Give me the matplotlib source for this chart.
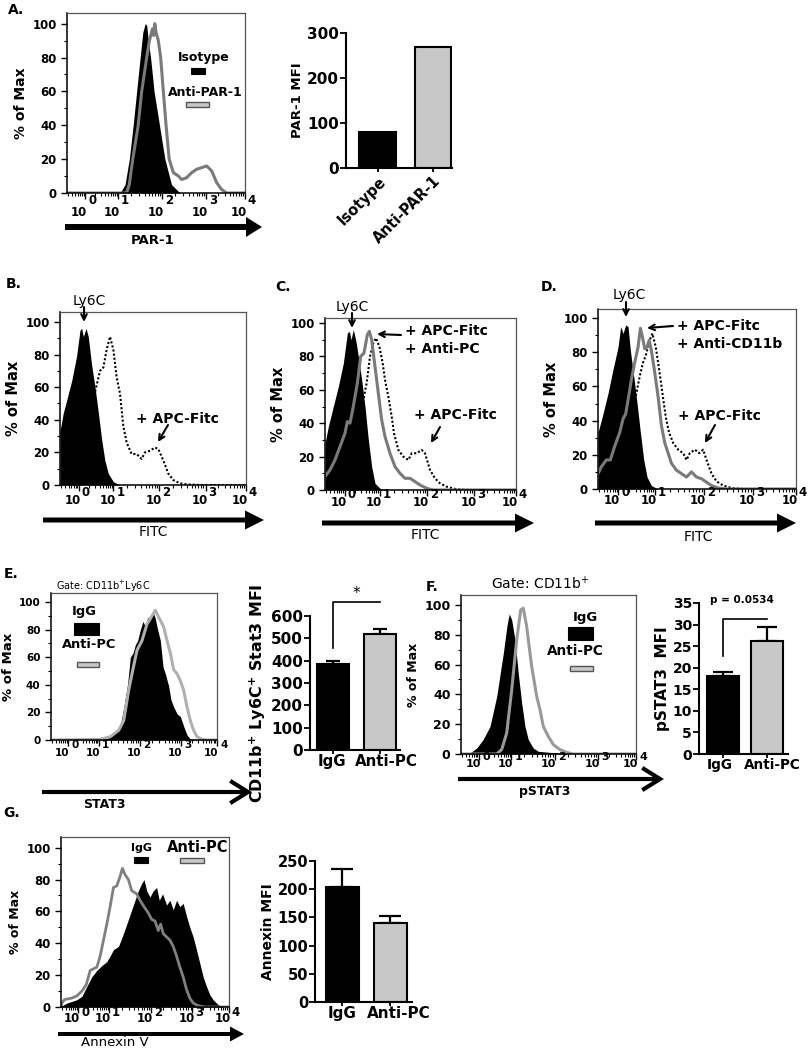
import numpy as np
import matplotlib
matplotlib.use('Agg')
import matplotlib.pyplot as plt
from matplotlib.patches import FancyArrow, Rectangle
from matplotlib import transforms
from matplotlib.ticker import FixedLocator, MultipleLocator

plt.rcParams['font.family'] = ['DejaVu Sans']
plt.rcParams['mathtext.fontset'] = 'dejavusans'

W, H = 809, 1050
fig = plt.figure(figsize=(W / 100, H / 100), dpi=100)

# ------------------------------------------------------------------ data
DECADE_LABELS = ['0', '1', '2', '3', '4']

# Panel A histogram (x in decade display units, y = % of max)
A_iso_x = [-0.6, 0.77, 0.90, 1.01, 1.11, 1.20, 1.29, 1.36, 1.42, 1.46, 1.50, 1.56, 1.65, 1.79, 1.93, 2.10, 2.32, 4.0]
A_iso_y = [0, 0, 5, 20, 40, 60, 80, 95, 100, 99, 90, 80, 60, 40, 20, 5, 0, 0]
A_par_x = [-0.6, 0.94, 1.01, 1.10, 1.24, 1.33, 1.46, 1.53, 1.61, 1.64, 1.67, 1.70, 1.76, 1.82, 1.89, 1.96, 2.04,
           2.15, 2.28, 2.36, 2.49, 2.62, 2.75, 2.88, 3.01, 3.14, 3.27, 3.40, 3.53, 4.0]
A_par_y = [0, 0, 5, 20, 40, 60, 80, 90, 97, 93, 100, 95, 90, 80, 60, 40, 20, 12, 10, 8, 9, 12, 14, 15, 16, 13, 6, 2, 0, 0]

# Panel A bars
A_bar_cats = ['Isotype', 'Anti-PAR-1']
A_bar_vals = [80, 270]

# Panel B
B_ly6c_x = [-0.6, -0.52, -0.435, -0.31, -0.19, -0.105, -0.064, -0.023, 0.043, 0.10, 0.18, 0.266, 0.35, 0.43, 0.51,
            0.595, 0.72, 0.88, 4.0]
B_ly6c_y = [33, 44, 52, 64, 79, 95, 96, 91, 96, 91, 74, 60, 44, 28, 15, 7, 2, 0, 0]
B_apc_x = [0.18, 0.266, 0.389, 0.472, 0.554, 0.637, 0.719, 0.801, 0.884, 0.966, 1.049, 1.172, 1.296, 1.42, 1.502,
           1.626, 1.75, 1.832, 1.956, 2.079, 2.203, 2.368, 2.533, 2.862, 4.0]
B_apc_y = [50, 57, 70, 72, 83, 91, 83, 66, 56, 36, 26, 19, 19, 16, 20, 21, 23, 22, 15, 7, 3, 1, 0.4, 0, 0]

# Panel C
C_ly6c_x = [-0.6, -0.52, -0.4, -0.279, -0.158, -0.062, -0.014, 0.026, 0.082, 0.139, 0.203, 0.283, 0.363, 0.444,
            0.524, 0.604, 0.725, 0.845, 4.0]
C_ly6c_y = [28, 38, 50, 62, 76, 94, 95, 90, 96, 90, 80, 66, 50, 30, 14, 4, 1, 0, 0]
C_pc_x = [-0.6, -0.48, -0.359, -0.239, -0.118, -0.062, 0.002, 0.082, 0.179, 0.259, 0.339, 0.42, 0.468, 0.524, 0.604,
          0.684, 0.765, 0.845, 0.965, 1.086, 1.206, 1.327, 1.447, 1.568, 1.688, 1.849, 2.009, 4.0]
C_pc_y = [8, 12, 18, 26, 34, 41, 40, 50, 64, 80, 82, 93, 95, 90, 74, 58, 42, 32, 22, 14, 10, 7, 7, 5, 3, 1, 0, 0]
C_apc_x = [0.25, 0.323, 0.403, 0.484, 0.564, 0.628, 0.709, 0.789, 0.845, 0.925, 1.006, 1.062, 1.166, 1.287, 1.407,
           1.487, 1.608, 1.728, 1.808, 1.929, 2.049, 2.17, 2.33, 2.571, 2.892, 4.0]
C_apc_y = [48, 54, 64, 80, 88, 91, 86, 76, 66, 56, 44, 34, 24, 20, 18, 22, 22, 24, 22, 12, 7, 4, 2, 0.4, 0, 0]

# Panel D
D_ly6c_x = [-0.6, -0.484, -0.367, -0.251, -0.135, -0.073, -0.018, 0.044, 0.098, 0.152, 0.23, 0.308, 0.385, 0.463,
            0.54, 0.641, 0.796, 4.0]
D_ly6c_y = [33, 44, 56, 70, 83, 95, 91, 96, 95, 81, 66, 50, 33, 17, 7, 2, 0, 0]
D_cd_x = [-0.6, -0.522, -0.406, -0.313, -0.212, -0.096, -0.018, 0.044, 0.098, 0.176, 0.253, 0.331, 0.385, 0.432,
          0.486, 0.54, 0.587, 0.641, 0.719, 0.796, 0.874, 0.951, 1.029, 1.107, 1.223, 1.339, 1.456, 1.572, 1.688,
          1.805, 1.921, 2.037, 2.193, 2.386, 4.0]
D_cd_y = [9, 13, 17, 17, 25, 33, 41, 44, 52, 64, 74, 83, 94, 89, 82, 83, 87, 81, 68, 54, 37, 27, 21, 15, 11, 9, 7, 10,
          7, 6, 4, 2, 0.6, 0, 0]
D_apc_x = [0.2, 0.292, 0.37, 0.447, 0.509, 0.602, 0.664, 0.742, 0.82, 0.897, 0.975, 1.052, 1.145, 1.262, 1.378,
           1.456, 1.533, 1.65, 1.75, 1.844, 1.921, 2.037, 2.154, 2.309, 2.503, 2.774, 4.0]
D_apc_y = [45, 56, 66, 74, 78, 87, 91, 83, 70, 56, 42, 33, 27, 23, 21, 17, 21, 23, 21, 23, 17, 9, 4.5, 2, 0.6, 0, 0]

# Panel E
E_igg_x = [-0.6, 0.767, 1.044, 1.229, 1.34, 1.432, 1.525, 1.598, 1.672, 1.737, 1.802, 1.876, 1.949, 2.014, 2.079,
           2.153, 2.227, 2.291, 2.337, 2.43, 2.504, 2.568, 2.661, 2.725, 2.799, 2.892, 2.984, 3.076, 3.169, 3.261, 4.0]
E_igg_y = [0, 0.5, 2.4, 6, 13, 26, 41, 60, 63, 69, 72, 80, 86, 82, 89, 87, 93, 88, 82, 72, 53, 48, 39, 29, 24, 19, 17,
           10, 3.6, 0.7, 0]
E_pc_x = [-0.6, 0.767, 1.044, 1.275, 1.414, 1.552, 1.645, 1.783, 1.922, 2.06, 2.199, 2.291, 2.384, 2.522, 2.614,
          2.707, 2.799, 2.892, 2.984, 3.076, 3.169, 3.261, 3.353, 3.446, 3.584, 3.723, 4.0]
E_pc_y = [0, 0.5, 2.4, 7, 14, 36, 48, 65, 72, 84, 90, 94, 89, 82, 72, 63, 51, 48, 43, 36, 24, 14, 7, 2.4, 0.5, 0, 0]
E_bar_cats = ['IgG', 'Anti-PC']
E_bar_vals = [385, 520]
E_bar_err = [12, 22]

# Panel F
F_igg_x = [-0.6, -0.363, -0.187, -0.022, 0.162, 0.338, 0.512, 0.617, 0.67, 0.733, 0.819, 0.906, 0.996, 1.082, 1.169,
           1.3, 1.432, 2.002, 2.344, 4.0]
F_igg_y = [0, 0.7, 4, 9.6, 18.5, 38.6, 67.6, 87.7, 94, 90, 76.6, 54, 34, 18.5, 9.6, 4, 1.8, 0.5, 0, 0]
F_pc_x = [-0.6, 0.338, 0.47, 0.601, 0.733, 0.864, 0.969, 1.038, 1.127, 1.258, 1.39, 1.477, 1.563, 1.695, 1.826, 2.002,
          2.178, 2.344, 4.0]
F_pc_y = [0, 0, 3, 14, 43, 76.6, 96.7, 97.8, 85.5, 58.7, 38.6, 29.7, 18.5, 11.8, 6.3, 2.9, 1.1, 0, 0]
F_bar_cats = ['IgG', 'Anti-PC']
F_bar_vals = [18.1, 26.2]
F_bar_err = [0.9, 3.2]

# Panel G
G_igg_x = [-0.6, -0.573, -0.436, -0.3, -0.164, -0.027, 0.109, 0.245, 0.382, 0.518, 0.655, 0.745, 0.836, 0.973, 1.109,
           1.2, 1.336, 1.427, 1.518, 1.609, 1.673, 1.745, 1.836, 1.927, 2.018, 2.091, 2.182, 2.291, 2.382, 2.473,
           2.564, 2.655, 2.745, 2.836, 2.927, 3.018, 3.109, 3.2, 3.291, 3.382, 3.473, 3.564, 3.7, 3.836, 4.0]
G_igg_y = [0, 0.8, 2.5, 3.5, 4.6, 6.7, 13, 19, 23, 26, 28.5, 32, 36, 38, 46, 52, 61, 67, 73, 77.5, 80, 73, 69, 73, 75,
           67, 71, 64, 67, 61, 67, 63, 65, 57, 50, 44, 36, 27.5, 19, 13, 7.7, 4.6, 1.5, 0, 0]
G_pc_x = [-0.6, -0.573, -0.509, -0.436, -0.3, -0.164, -0.027, 0.091, 0.2, 0.291, 0.382, 0.473, 0.564, 0.655, 0.745,
          0.836, 0.927, 1.018, 1.082, 1.155, 1.245, 1.336, 1.473, 1.564, 1.673, 1.791, 1.882, 1.973, 2.064, 2.127,
          2.2, 2.291, 2.382, 2.473, 2.564, 2.655, 2.745, 2.836, 2.927, 3.018, 3.155, 3.336, 4.0]
G_pc_y = [0, 2.5, 4.6, 5, 5.6, 7, 10, 14, 23, 24, 25, 32, 42, 52, 63, 75, 76, 82, 87, 83, 80, 73, 71, 67, 63, 59, 55,
          54, 48, 52, 46, 44, 42, 38, 32, 25, 19, 11, 5.6, 2.5, 0.8, 0, 0]
G_bar_cats = ['IgG', 'Anti-PC']
G_bar_vals = [204, 140]
G_bar_err = [31, 13]

# ------------------------------------------------------------------ layout helpers
TICK_POS = [-0.13, 0.72, 1.86, 3.0, 4.0]
minor_pos = []
for k in range(4):
    a, b = TICK_POS[k], TICK_POS[k + 1]
    for m in range(2, 10):
        minor_pos.append(a + np.log10(m) * (b - a))
for m in range(2, 10):
    p = TICK_POS[0] - (1 - np.log10(m)) * (TICK_POS[1] - TICK_POS[0])
    if p > -0.6:
        minor_pos.append(p)


def px_axes(l, t, r, b):
    return fig.add_axes([l / W, 1 - b / H, (r - l) / W, (b - t) / H])


def hist_axes(box, ymax, ytfs, ylfs, xtfs, base_dy, exp_dy):
    ax = px_axes(*box)
    ax.set_xlim(-0.6, 4.0)
    ax.set_ylim(0, ymax)
    for s in ['top', 'right']:
        ax.spines[s].set_color('#555555')
        ax.spines[s].set_linewidth(0.9)
    for s in ['left', 'bottom']:
        ax.spines[s].set_color('black')
        ax.spines[s].set_linewidth(1.1)
    ax.set_yticks([0, 20, 40, 60, 80, 100])
    ax.set_yticklabels(['0', '20', '40', '60', '80', '100'], fontweight='bold', fontsize=ytfs)
    ax.yaxis.set_minor_locator(MultipleLocator(10))
    ax.set_xticks(TICK_POS)
    ax.set_xticklabels([])
    ax.xaxis.set_minor_locator(FixedLocator(minor_pos))
    ax.tick_params(axis='both', which='major', direction='out', length=4, width=1)
    ax.tick_params(axis='both', which='minor', direction='out', length=2, width=0.8)
    ax.set_ylabel('% of Max', fontweight='bold', fontsize=ylfs, labelpad=3)
    btr = transforms.offset_copy(ax.get_xaxis_transform(), fig=fig, x=-6, y=base_dy, units='dots')
    etr = transforms.offset_copy(ax.get_xaxis_transform(), fig=fig, x=7, y=exp_dy, units='dots')
    for p, e in zip(TICK_POS, DECADE_LABELS):
        ax.text(p, 0, '10', transform=btr, ha='center', va='center', fontsize=xtfs, fontweight='bold', clip_on=False)
        ax.text(p, 0, e, transform=etr, ha='center', va='center', fontsize=xtfs, fontweight='bold', clip_on=False)
    return ax


def bar_axes(box, ymax, yticks, cats, vals, errs, xlim, width, ytfs, xtfs, ylabel, ylfs, capsize=5, rot=0,
             label_shift=None):
    ax = px_axes(*box)
    x = np.arange(len(cats))
    if errs is not None:
        ax.errorbar(x, vals, yerr=[np.zeros(len(vals)), errs], fmt='none', ecolor='black',
                    elinewidth=1.6, capsize=capsize, capthick=1.6, zorder=1)
    ax.bar(x, vals, width=width, color=['black', '#c8c8c8'], edgecolor='black', linewidth=1.5, zorder=2)
    ax.set_xlim(*xlim)
    ax.set_ylim(0, ymax)
    ax.spines['top'].set_visible(False)
    ax.spines['right'].set_visible(False)
    ax.spines['left'].set_linewidth(1.5)
    ax.spines['bottom'].set_linewidth(1.5)
    ax.set_yticks(yticks)
    ax.set_yticklabels([str(v) for v in yticks], fontweight='bold', fontsize=ytfs)
    ax.set_xticks(x)
    if rot:
        ax.set_xticklabels(cats, fontweight='bold', fontsize=xtfs, rotation=rot, ha='right',
                           va='top', rotation_mode='anchor')
    else:
        ax.set_xticklabels([])
        shifts = label_shift if label_shift is not None else [0] * len(cats)
        for i, (c, dx) in enumerate(zip(cats, shifts)):
            tr = transforms.offset_copy(ax.get_xaxis_transform(), fig=fig, x=dx, y=-4, units='dots')
            ax.text(i, 0, c, transform=tr, ha='center', va='top', fontsize=xtfs, fontweight='bold',
                    clip_on=False)
    ax.tick_params(axis='y', direction='out', length=4, width=1.3, pad=1)
    ax.tick_params(axis='x', direction='out', length=3, width=1.3, pad=1)
    ax.set_ylabel(ylabel, fontweight='bold', fontsize=ylfs, labelpad=2)
    ax.patch.set_alpha(0)
    return ax


DARK_GRAY = '#7a7a7a'
DOT = (0, (1, 1))

# ------------------------------------------------------------------ Panel A
ax = hist_axes((67, 13, 245, 193), 106.3, 8.5, 10, 8.5, -19, -7)
ax.fill_between(A_iso_x, 0, A_iso_y, color='black', lw=0)
ax.plot(A_par_x, A_par_y, color=DARK_GRAY, lw=2.2)

ax = bar_axes((346, 33, 452, 168), 300, [0, 100, 200, 300], A_bar_cats, A_bar_vals, None,
              (-0.58, 1.345), 0.67, 11, 10.5, 'PAR-1 MFI', 9.5, rot=45)

# ------------------------------------------------------------------ Panel B
ax = hist_axes((60, 312, 246, 485), 106.1, 8.5, 10.5, 8.5, -15, -8)
ax.plot(B_apc_x, B_apc_y, color='black', lw=1.5, ls=DOT)
ax.fill_between(B_ly6c_x, 0, B_ly6c_y, color='black', lw=0)

# ------------------------------------------------------------------ Panel C
ax = hist_axes((325, 318, 516, 490), 103, 8.5, 10.5, 8.5, -13, -5)
ax.plot(C_apc_x, C_apc_y, color='black', lw=1.5, ls=DOT)
ax.fill_between(C_ly6c_x, 0, C_ly6c_y, color='black', lw=0)
ax.plot(C_pc_x, C_pc_y, color=DARK_GRAY, lw=2.2)

# ------------------------------------------------------------------ Panel D
ax = hist_axes((598, 309, 796, 489), 105.3, 8.5, 10.5, 8.5, -11, -4)
ax.plot(D_apc_x, D_apc_y, color='black', lw=1.5, ls=DOT)
ax.fill_between(D_ly6c_x, 0, D_ly6c_y, color='black', lw=0)
ax.plot(D_cd_x, D_cd_y, color=DARK_GRAY, lw=2.2)

# ------------------------------------------------------------------ Panel E
ax = hist_axes((51, 593, 217, 740), 106.5, 7.5, 9.5, 7.5, -13, -5)
ax.fill_between(E_igg_x, 0, E_igg_y, color='black', lw=0)
ax.plot(E_pc_x, E_pc_y, color='#b0b0b0', lw=2.2)

ax = bar_axes((310, 616, 400, 750), 600, [0, 100, 200, 300, 400, 500, 600], E_bar_cats, E_bar_vals, E_bar_err,
              (-0.49, 1.43), 0.68, 11, 10.8, r'CD11b$^{\mathbf{+}}$ Ly6C$^{\mathbf{+}}$ Stat3 MFI', 11.4, capsize=5,
              label_shift=[-1, 7])
ax.yaxis.set_label_coords(-0.47, 0.42)
ax.plot([0, 0, 1], [457, 663, 663], color='black', lw=1.2, clip_on=False)
ax.text(0.49, 700, '*', ha='center', va='center', fontsize=11, clip_on=False)

# ------------------------------------------------------------------ Panel F
ax = hist_axes((461, 595, 636, 754), 106.7, 9, 9, 8, -10, -3)
ax.fill_between(F_igg_x, 0, F_igg_y, color='black', lw=0)
ax.plot(F_pc_x, F_pc_y, color='#999999', lw=2.2)

ax = bar_axes((699, 603, 788, 754), 35, [0, 5, 10, 15, 20, 25, 30, 35], F_bar_cats, F_bar_vals, F_bar_err,
              (-0.545, 1.48), 0.73, 10, 9.8, 'pSTAT3  MFI', 11, capsize=7, label_shift=[-3, 5])
ax.plot([0, 0, 1], [22.6, 31.3, 31.3], color='black', lw=1.2, clip_on=False)
ax.text(0.43, 35.8, 'p = 0.0534', ha='center', va='center', fontsize=7.5, fontweight='bold', clip_on=False)

# ------------------------------------------------------------------ Panel G
ax = hist_axes((61, 837, 229, 1007), 106.7, 8.5, 9, 8.5, -11, -5)
ax.fill_between(G_igg_x, 0, G_igg_y, color='black', lw=0)
ax.plot(G_pc_x, G_pc_y, color='#808080', lw=2.0)

ax = bar_axes((315, 861, 412, 1002), 250, [0, 50, 100, 150, 200, 250], G_bar_cats, G_bar_vals, G_bar_err,
              (-0.573, 1.45), 0.69, 10.5, 11, 'Annexin MFI', 10, capsize=8, label_shift=[0, 8])

# ------------------------------------------------------------------ overlay (pixel coordinates)
ov = fig.add_axes([0, 0, 1, 1], zorder=10)
ov.set_xlim(0, W)
ov.set_ylim(H, 0)
ov.axis('off')
ov.patch.set_alpha(0)

for lab, x, y in [('A.', 16, 10), ('B.', 14, 284), ('C.', 283, 287), ('D.', 549, 287),
                  ('E.', 11, 574), ('F.', 432, 587), ('G.', 12, 813)]:
    ov.text(x, y, lab, ha='center', va='center', fontsize=10, fontweight='bold')

# thick axis arrows
for x1, x2, y, wd, hw, hl in [(65, 262, 227, 6, 20, 16), (43, 264, 520, 5, 19, 19),
                              (322, 534, 523, 5, 19, 19), (595, 796, 523, 5, 19, 19),
                              (58, 244, 1034, 4, 15, 14)]:
    ov.add_patch(FancyArrow(x1, y, x2 - x1, 0, width=wd, head_width=hw, head_length=hl,
                            length_includes_head=True, color='black', lw=0))
for x1, x2, y in [(42, 248, 792), (458, 660, 779)]:
    ov.plot([x1, x2 - 2], [y, y], color='black', lw=3, solid_capstyle='butt')
    ov.plot([x2 - 16, x2, x2 - 16], [y - 10, y, y + 10], color='black', lw=3, solid_joinstyle='miter')

for txt, x, y, fs in [('PAR-1', 153, 241, 9.5), ('FITC', 153, 532, 10), ('FITC', 425, 535, 10),
                      ('FITC', 698, 537, 10), ('STAT3', 104, 805, 9), ('pSTAT3', 545, 792, 9),
                      ('Annexin V', 115, 1043, 9.5)]:
    ov.text(x, y, txt, ha='center', va='center', fontsize=fs,
            fontweight='bold' if txt in ('PAR-1', 'STAT3', 'pSTAT3') else 'normal')

# legends
ov.text(204, 57, 'Isotype', ha='center', va='center', fontsize=9, fontweight='bold')
ov.add_patch(Rectangle((191, 68), 14, 6, facecolor='black', edgecolor='black', lw=0.8))
ov.text(205, 93, 'Anti-PAR-1', ha='center', va='center', fontsize=9, fontweight='bold')
ov.add_patch(Rectangle((186, 102), 23, 5, facecolor='#c8c8c8', edgecolor='#555555', lw=1))

ov.text(84, 611, 'IgG', ha='center', va='center', fontsize=9.4, fontweight='bold')
ov.add_patch(Rectangle((74, 623), 25, 12, facecolor='black', edgecolor='black', lw=0.8))
ov.text(89, 645, 'Anti-PC', ha='center', va='center', fontsize=9.4, fontweight='bold')
ov.add_patch(Rectangle((77, 662), 22, 4.5, facecolor='#c8c8c8', edgecolor='#555555', lw=1))

ov.text(585, 617, 'IgG', ha='center', va='center', fontsize=9.5, fontweight='bold')
ov.add_patch(Rectangle((568, 627), 25, 13, facecolor='black', edgecolor='black', lw=0.8))
ov.text(575, 651, 'Anti-PC', ha='center', va='center', fontsize=9.8, fontweight='bold')
ov.add_patch(Rectangle((570, 666), 23, 5, facecolor='#c8c8c8', edgecolor='#555555', lw=1))

ov.text(142, 848, 'IgG', ha='center', va='center', fontsize=8, fontweight='bold')
ov.add_patch(Rectangle((134, 857), 14, 6, facecolor='black', edgecolor='black', lw=0.8))
ov.text(198, 848, 'Anti-PC', ha='center', va='center', fontsize=10.5, fontweight='bold')
ov.add_patch(Rectangle((180, 858), 24, 4.5, facecolor='#c8c8c8', edgecolor='#555555', lw=1))

# gate labels
ov.text(103, 586, r'Gate: CD11b$^{+}$Ly6C', ha='center', va='center', fontsize=7)
ov.text(540, 584, r'Gate: CD11b$^{+}$', ha='center', va='center', fontsize=10)

# annotations with arrows
arr = dict(arrowstyle='->', color='black', lw=1.5, shrinkA=0, shrinkB=0)
for x, y in [(89, 301), (352, 307), (629, 295)]:
    ov.text(x, y, 'Ly6C', ha='center', va='center', fontsize=10)
for (x1, y1, x2, y2) in [(84, 307, 84, 322), (352, 313, 352, 328), (626, 302, 626, 317)]:
    ov.annotate('', xy=(x2, y2), xytext=(x1, y1), arrowprops=arr)

ov.text(177, 419, '+ APC-Fitc', ha='center', va='center', fontsize=10, fontweight='bold')
ov.annotate('', xy=(158, 442), xytext=(168, 425), arrowprops=arr)

ov.text(405, 331, '+ APC-Fitc', ha='left', va='center', fontsize=10, fontweight='bold')
ov.text(405, 349, '+ Anti-PC', ha='left', va='center', fontsize=10, fontweight='bold')
ov.annotate('', xy=(377, 334), xytext=(401, 335), arrowprops=arr)
ov.text(455, 415, '+ APC-Fitc', ha='center', va='center', fontsize=10, fontweight='bold')
ov.annotate('', xy=(431, 443), xytext=(440, 427), arrowprops=arr)

ov.text(677, 326, '+ APC-Fitc', ha='left', va='center', fontsize=10, fontweight='bold')
ov.text(677, 344, '+ Anti-CD11b', ha='left', va='center', fontsize=10, fontweight='bold')
ov.annotate('', xy=(647, 328), xytext=(673, 326), arrowprops=arr)
ov.text(719, 416, '+ APC-Fitc', ha='center', va='center', fontsize=10, fontweight='bold')
ov.annotate('', xy=(705, 443), xytext=(715, 425), arrowprops=arr)

fig.savefig('out.png', dpi=100)
